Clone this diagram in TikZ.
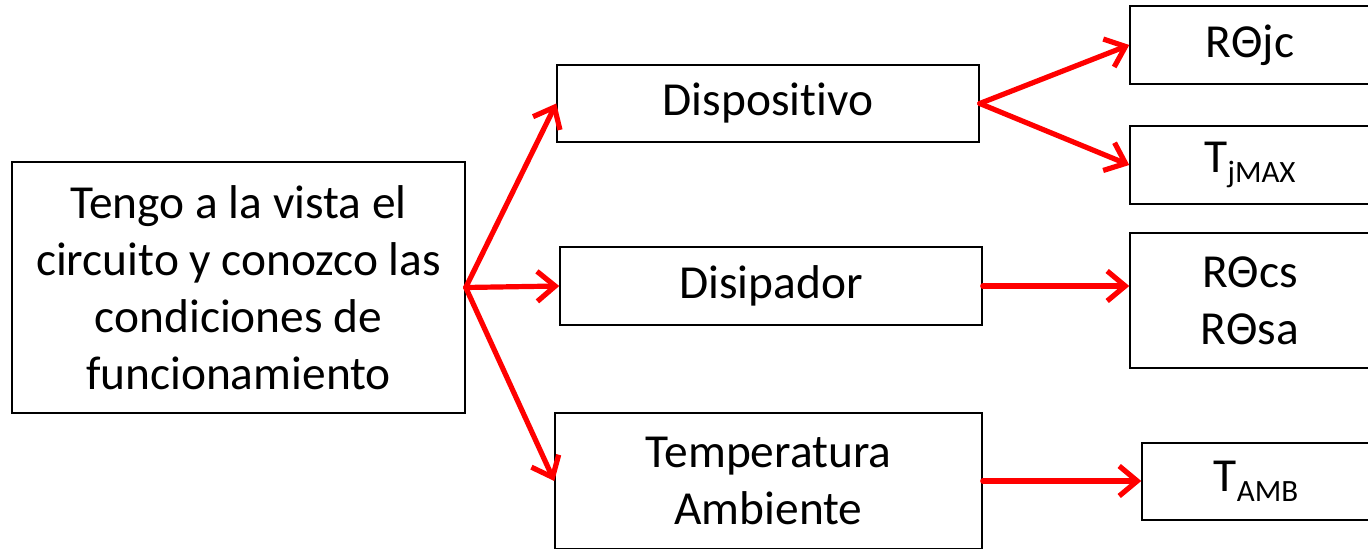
\documentclass[tikz,border=0pt]{standalone}
\usepackage{fontspec}
\setmainfont{Carlito}[Ligatures={NoCommon}]
\usetikzlibrary{arrows.meta}
\newcommand{\sbt}[1]{\raisebox{-0.2em}{\fontsize{15.5}{15.5}\selectfont #1}}
\begin{document}
\begin{tikzpicture}[x=0.5pt,y=-0.5pt,
  box/.style={draw=black,line width=0.75pt,fill=white,inner sep=0pt,align=center,
    font=\fontsize{23.7}{28.5}\selectfont},
  conn/.style={draw=red,line width=2.6pt,line cap=round,line join=round,
    -{Straight Barb[length=9pt,width=15pt,line width=2.6pt]}}]
\useasboundingbox (0,0) rectangle (1368,549);
\node[box,minimum width=226.5pt,minimum height=125.5pt] (main) at (238.5,287.5)
  {Tengo a la vista el\\circuito y conozco las\\condiciones de\\funcionamiento};
\node[box,minimum width=211pt,minimum height=38.5pt] (disp) at (768,103.5) {Dispositivo};
\node[box,minimum width=211pt,minimum height=39pt] (disi) at (771,286) {Disipador};
\node[box,minimum width=213.5pt,minimum height=68pt] (temp) at (768.5,481) {Temperatura\\Ambiente};
\node[box,minimum width=120pt,minimum height=39pt] (rjc) at (1250,45) {RΘjc};
\node[box,minimum width=120pt,minimum height=39pt] (tj) at (1250,165) {T\sbt{jMAX}};
\node[box,minimum width=120pt,minimum height=67.5pt] (rcs) at (1250,300.5) {RΘcs\\RΘsa};
\node[box,minimum width=114pt,minimum height=38.5pt] (tamb) at (1256,481.5) {T\sbt{AMB}};
\draw[conn] (main.east) -- (disp.west);
\draw[conn] (main.east) -- (disi.west);
\draw[conn] (main.east) -- (temp.west);
\draw[conn] (disp.east) -- (rjc.west);
\draw[conn] (disp.east) -- (tj.west);
\draw[conn] (disi.east) -- (disi.east -| rcs.west);
\draw[conn] (temp.east) -- (temp.east -| tamb.west);
\end{tikzpicture}
\end{document}
